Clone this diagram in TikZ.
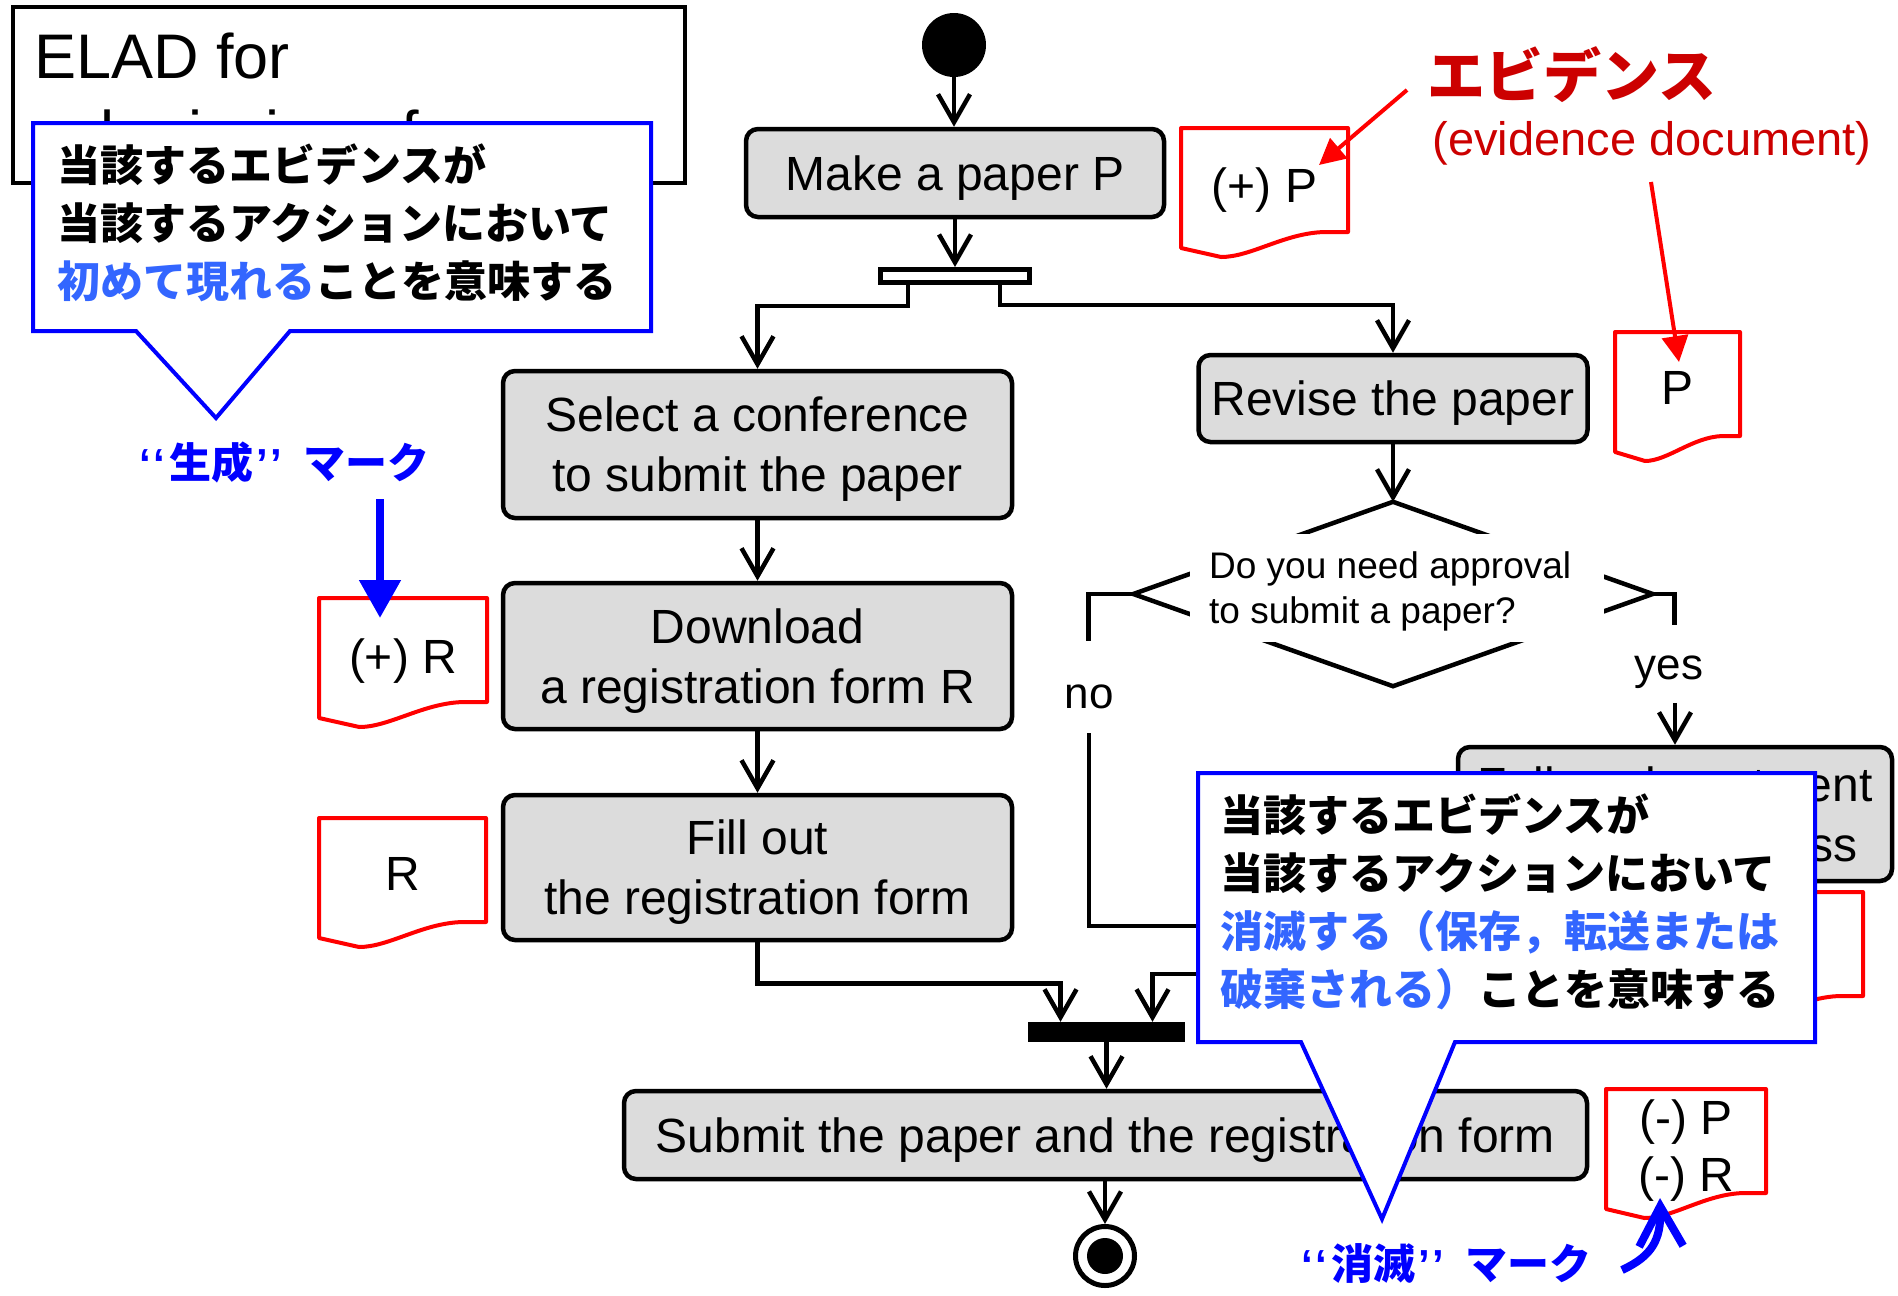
\documentclass[tikz,border=0pt]{standalone}
\usepackage{fontspec}
\setmainfont{Liberation Sans}
\newfontfamily\jpfont{Noto Sans CJK JP}
\usetikzlibrary{arrows.meta,calc}

\definecolor{actgray}{RGB}{220,220,220}
\definecolor{noteblue}{RGB}{51,102,255}
\definecolor{markblue}{RGB}{0,0,255}
\definecolor{evred}{RGB}{204,0,0}
\definecolor{docred}{RGB}{255,0,0}

\newcommand\fs[2]{\fontsize{#1bp}{#2bp}\selectfont}
\newcommand\jb[1]{{\jpfont\bfseries #1}}
% quoted mark label: opening ticks, word, closing ticks, then the word "mark"
\newcommand\marktext[1]{‘\hspace{3bp}‘\hspace{4bp}\jb{#1}\hspace{3bp}’\hspace{2bp}’\hspace{22bp}\jb{マーク}}

% evidence document: name, left, top, width, text offset, text
\newcommand\evdoc[6]{%
  \draw[docline] ({#2},{#3}) -- ({#2+#4},{#3}) -- ({#2+#4},{#3+104})
    -- ({#2+0.86*#4},{#3+104})
    .. controls ({#2+0.62*#4},{#3+105}) and ({#2+0.42*#4},{#3+129}) .. ({#2+0.24*#4},{#3+129})
    -- ({#2},{#3+120}) -- cycle;
  \node[doctext] (#1) at ({#2+#4/2},{#3+#5}) {#6};
}

\tikzset{
  act/.style={draw, line width=4.5bp, rounded corners=12bp, fill=actgray,
    align=center, inner sep=0pt, text depth=0pt, font=\fs{48}{60}},
  flow/.style={line width=4.5bp, -{Straight Barb[length=28bp,width=32bp]}},
  plainline/.style={line width=4.5bp},
  docline/.style={draw=docred, line width=4bp, fill=white, line join=round},
  doctext/.style={font=\fs{48}{57}, align=center, inner sep=0pt, text depth=0pt},
  callout/.style={draw=markblue, line width=4bp, fill=white, line join=miter},
  notetext/.style={font=\jpfont\bfseries\fs{43}{58}, align=left, inner sep=0pt, anchor=west},
  marklabel/.style={font=\bfseries\fs{42}{50}, text=markblue, inner sep=0pt},
  evarrow/.style={draw=docred, line width=4bp, -{Triangle[length=26bp,width=26bp]}},
  branchlabel/.style={font=\fs{44}{50}, inner sep=0pt},
}

\begin{document}
\begin{tikzpicture}[x=1bp,y=-1bp]
\fill[white] (0,0) rectangle (1898,1295);
\path[use as bounding box] (0,0) rectangle (1898,1295);

% title box
\node[draw, line width=4bp, minimum width=672bp, minimum height=176bp, inner sep=0pt,
  anchor=north west] (title) at (11,5) {};
\node[anchor=base west, font=\fs{63}{76}, inner sep=0pt] (titleA) at (34,78) {ELAD for};
\node[anchor=base west, font=\fs{63}{76}, inner sep=0pt] (titleB) at (34,155) {submission of a paper};

% note on the creation mark
\draw[callout] (33,123) -- (651,123) -- (651,331) -- (290,331) -- (216,418) -- (136,331) -- (33,331) -- cycle;
\node[notetext] (noteA) at (57,223) {当該するエビデンスが\\当該するアクションにおいて\\\textcolor{noteblue}{初めて現れる}ことを意味する};
\node[marklabel, anchor=west] (genlabel) at (139,462) {\marktext{生成}};

% activity flow
\node[circle, fill=black, minimum size=64bp, inner sep=0pt] (start) at (954,45) {};
\node[act, minimum width=418bp, minimum height=88bp] (make) at (955,173) {Make a paper P};
\node[draw, fill=white, line width=5bp, minimum width=149bp, minimum height=13bp, inner sep=0pt] (fork) at (955,276) {};
\node[act, minimum width=509bp, minimum height=147bp] (select) at (757.5,444.5) {Select a conference\\to submit the paper};
\node[act, minimum width=509bp, minimum height=146bp] (download) at (757.5,656) {Download\\a registration form R};
\node[act, minimum width=509bp, minimum height=145bp] (fillout) at (757.5,867.5) {Fill out\\the registration form};
\node[act, minimum width=389bp, minimum height=87bp] (revise) at (1393,398.5) {Revise the paper};

\node[inner sep=0pt, minimum width=519bp, minimum height=184bp] (dec) at (1393,594) {};
\draw[plainline, line join=miter] (dec.north) -- (dec.east) -- (dec.south) -- (dec.west) -- cycle;
\node[fill=white, inner sep=0pt, minimum width=414bp, minimum height=108bp] (deccover) at (1397,588) {};
\node[anchor=west, align=left, inner sep=0pt, font=\fs{37}{45}] (dectext) at (1209,591) {Do you need approval\\to submit a paper?};

\node[act, minimum width=434bp, minimum height=134bp] (exploit) at (1675,814) {Follow department\\approval process};
\node[fill=black, inner sep=0pt, minimum width=157bp, minimum height=20bp] (join) at (1106.5,1032) {};
\node[act, minimum width=963bp, minimum height=88bp] (submit) at (1105.5,1135) {Submit the paper and the registration form};
\node[circle, draw, line width=5bp, minimum size=59bp, inner sep=0pt] (end) at (1105,1256) {};
\fill (end.center) circle[radius=18bp];

% connectors
\draw[flow] (start) -- (start |- make.north);
\draw[flow] (make.south) -- (make.south |- fork.north);
\draw[flow] ($(fork.south)+(-47,0)$) -- ++(0,21) -| (select.north);
\draw[flow] ($(fork.south)+(45,0)$) -- ++(0,20) -| (revise.north);
\draw[flow] (select) -- (download);
\draw[flow] (download) -- (fillout);
\draw[flow] (revise.south) -- (dec.north);

\draw[plainline] (dec.west) -- ++(-45,0) -- ++(0,47);
\node[branchlabel] (nolabel) at (1089,697) {no};
\coordinate (nofrom) at (1089,733);
\coordinate (nomerge) at (1675,926);
\draw[plainline] (nofrom) |- (nomerge);

\draw[plainline] (dec.east) -- ++(22,0) -- ++(0,31);
\node[branchlabel] (yeslabel) at (1669,672) {yes};
\draw[flow] ($(exploit.north)+(0,-42)$) -- (exploit.north);

\draw[flow] (exploit.south) |- ($(join.north)+(46,-48)$) -- ($(join.north)+(46,0)$);
\draw[flow] (fillout.south) -- ++(0,41) -| ($(join.north)+(-46,0)$);
\draw[flow] (join.south) -- (join.south |- submit.north);
\draw[flow] (submit.south -| end.north) -- (end.north);

% evidence documents
\evdoc{docP}{1181}{128}{167}{57}{(+) P}
\evdoc{docPrev}{1615}{332}{125}{56}{P}
\evdoc{docRnew}{319}{598}{168}{58}{(+) R}
\evdoc{docR}{319}{818}{167}{56}{R}
\evdoc{docApproval}{1700}{892}{163}{56}{}
\evdoc{docOut}{1606}{1089}{160}{57}{(-) P\\(-) R}

% evidence legend
\node[font=\jpfont\bfseries\fs{58}{60}, text=evred, inner sep=0pt] (evtitle) at (1572,75) {エビデンス};
\node[font=\fs{47}{50}, text=evred, inner sep=0pt] (evsub) at (1652,143) {(evidence document)};
\coordinate (evAfrom) at (1407,90);
\coordinate (evAto) at (1319,165);
\coordinate (evBfrom) at (1651,182);
\coordinate (evBto) at (1679,362);
\draw[evarrow] (evAfrom) -- (evAto);
\draw[evarrow] (evBfrom) -- (evBto);

% creation mark arrow
\coordinate (genfrom) at (380,499);
\coordinate (gento) at (380,618);
\draw[markblue, line width=8bp, -{Triangle[length=38bp,width=40bp]}] (genfrom) -- (gento);

% note on the deletion mark
\draw[callout] (1198,773) -- (1815,773) -- (1815,1042) -- (1455,1042) -- (1382,1219) -- (1301,1042) -- (1198,1042) -- cycle;
\node[notetext] (noteB) at (1220,902) {当該するエビデンスが\\当該するアクションにおいて\\\textcolor{noteblue}{消滅する（保存，転送または}\\\textcolor{noteblue}{破棄される）}ことを意味する};
\node[marklabel, anchor=west] (dellabel) at (1301,1263) {\marktext{消滅}};
\coordinate (delfrom) at (1622,1270);
\coordinate (delto) at (1660,1198);
\draw[markblue, line width=8bp, -{Straight Barb[length=40bp,width=44bp]}] (delfrom) .. controls (1652,1256) and (1661,1240) .. (delto);
\end{tikzpicture}
\end{document}
